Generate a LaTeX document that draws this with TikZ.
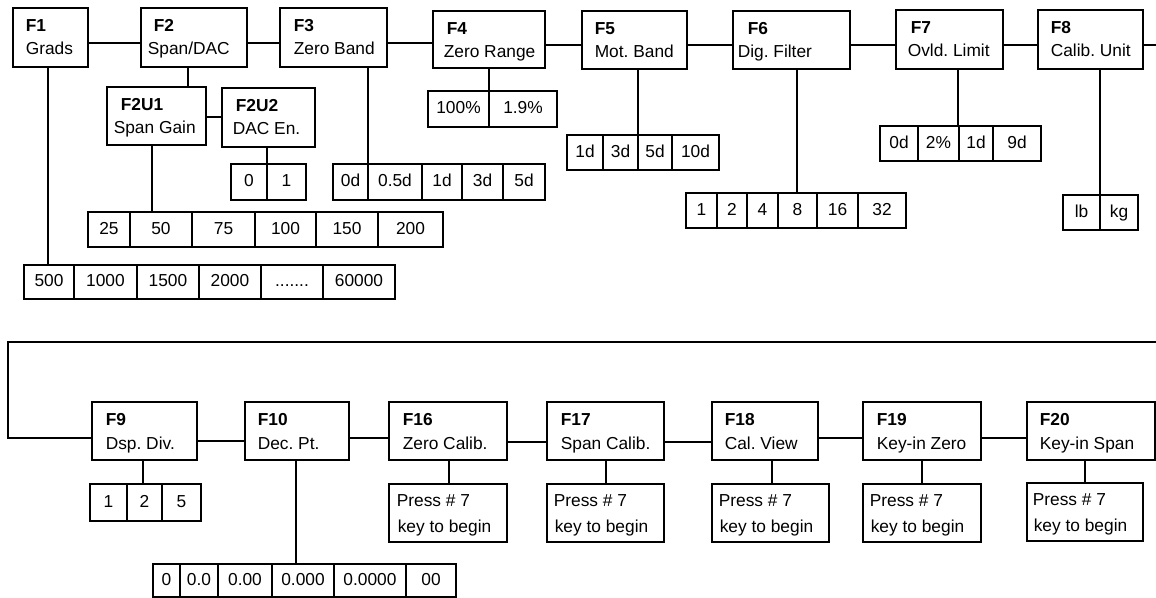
\documentclass[tikz,border=0pt]{standalone}
\usepackage{fontspec}
\setmainfont{Liberation Sans}
\frenchspacing
\newcommand{\dotsval}{.......}
\begin{document}
\frenchspacing
\begin{tikzpicture}[x=0.75pt,y=-0.75pt,line width=1.2pt,
  every node/.style={font=\fontsize{13}{15}\selectfont},
  fbox/.style={draw,rectangle,inner sep=0pt},
  cell/.style={draw,rectangle,inner sep=0pt,text height=0.716em,text depth=0pt},
  ftxt/.style={anchor=base west,inner sep=0pt},
  flbl/.style={anchor=base west,inner sep=0pt,font=\fontsize{13}{15}\selectfont\bfseries}]
\useasboundingbox (0,0) rectangle (1156,598);
% function box: name, x1,y1,x2,y2, label x, text x, label, text
\newcommand{\fbx}[9]{%
  \node[fbox,minimum width={(#4-#2)*0.75pt},minimum height={(#5-#3)*0.75pt}] (#1) at ({(#2+#4)/2},{(#3+#5)/2}) {};
  \node[flbl] (#1-l) at (#6,#3+24) {#8};
  \node[ftxt] (#1-t) at (#7,#3+47) {#9};}
% press box: name, x1,y1,x2,y2, text x
\newcommand{\pbx}[6]{%
  \node[fbox,minimum width={(#4-#2)*0.75pt},minimum height={(#5-#3)*0.75pt}] (#1) at ({(#2+#4)/2},{(#3+#5)/2}) {};
  \node[ftxt] (#1-a) at (#6,#3+22) {Press \# 7};
  \node[ftxt] (#1-b) at (#6+1,#3+48) {key to begin};}
% option row: prefix, y1, y2, list x1/x2/text
\newcommand{\optrow}[4]{%
  \foreach \a/\b/\t [count=\i] in {#4} {
    \node[cell,minimum width={(\b-\a)*0.75pt},minimum height={(#3-#2)*0.75pt}] (#1\i) at ({(\a+\b)/2},{(#2+#3)/2}) {\t};}}

% top row
\fbx{f1}{13}{8}{88}{67}{25}{25}{F1}{Grads}
\fbx{f2}{141}{8}{247}{67}{153}{147}{F2}{Span/DAC}
\fbx{f3}{280}{8}{387}{67}{293}{293}{F3}{Zero Band}
\fbx{f4}{433}{11}{545}{68}{446}{443}{F4}{Zero Range}
\fbx{f5}{582}{11}{687}{69}{594}{594}{F5}{Mot. Band}
\fbx{f6}{733}{11}{850}{69}{747}{737}{F6}{Dig. Filter}
\fbx{f7}{896}{10}{1003}{69}{910}{907}{F7}{Ovld. Limit}
\fbx{f8}{1038}{10}{1143}{69}{1050}{1050}{F8}{Calib. Unit}
\fbx{f2u1}{107}{87}{206}{145}{120}{113}{F2U1}{Span Gain}
\fbx{f2u2}{222}{88}{315}{147}{235}{232}{F2U2}{DAC En.}

\optrow{grads}{265}{299}{24/74/500,74/137/1000,137/199/1500,199/261/2000,261/323/\dotsval,323/395/60000}
\optrow{gain}{212}{247}{88/130/25,130/192/50,192/255/75,255/316/100,316/378/150,378/443/200}
\optrow{dac}{164}{200}{231/267/0,267/306/1}
\optrow{zb}{164}{200}{333/368/0d,368/422/0.5d,422/462/1d,462/503/3d,503/545/5d}
\optrow{zr}{91}{127}{428/489/100\%,489/557/1.9\%}
\optrow{mb}{135}{170}{567/603/1d,603/638/3d,638/672/5d,672/719/10d}
\optrow{df}{193}{228}{686/717/1,717/747/2,747/778/4,778/817/8,817/858/16,858/906/32}
\optrow{ol}{126}{161}{880/918/0d,918/959/2\%,959/993/1d,993/1041/9d}
\optrow{cu}{195}{230}{1063/1100/lb,1100/1138/kg}

% bottom row
\fbx{f9}{92}{402}{197}{460}{105}{105}{F9}{Dsp. Div.}
\fbx{f10}{245}{402}{349}{460}{257}{257}{F10}{Dec. Pt.}
\fbx{f16}{389}{402}{507}{460}{402}{402}{F16}{Zero Calib.}
\fbx{f17}{547}{402}{664}{460}{560}{560}{F17}{Span Calib.}
\fbx{f18}{712}{402}{818}{460}{724}{724}{F18}{Cal. View}
\fbx{f19}{863}{402}{981}{460}{876}{876}{F19}{Key-in Zero}
\fbx{f20}{1027}{402}{1155}{460}{1039}{1039}{F20}{Key-in Span}

\pbx{p16}{389}{484}{507}{542}{396}
\pbx{p17}{547}{484}{664}{542}{553}
\pbx{p18}{712}{484}{829}{542}{718}
\pbx{p19}{863}{484}{981}{542}{869}
\pbx{p20}{1027}{483}{1143}{541}{1032}

\optrow{dd}{484}{521}{90/127/1,127/162/2,162/201/5}
\optrow{dp}{564}{597}{153/180/0,180/218/0.0,218/272/0.00,272/334/0.000,334/406/0.0000,406/456/00}

% level coordinates
\coordinate (ya) at (0,43);
\coordinate (yb) at (0,45);
\coordinate (yc) at (0,117);
\coordinate (rtop) at (1156,45);
\coordinate (rloop) at (1156,342);
\coordinate (lloop) at (8,342);
\coordinate (yl) at (0,438);
\coordinate (yd) at (0,441);
\coordinate (ye) at (0,442);
% vertical positions
\coordinate (v1) at (48,0);
\coordinate (v2) at (188,0);
\coordinate (v2a) at (152,0);
\coordinate (v2b) at (267,0);
\coordinate (v3) at (368,0);
\coordinate (v4) at (489,0);
\coordinate (v5) at (638,0);
\coordinate (v6) at (797,0);
\coordinate (v7) at (958,0);
\coordinate (v8) at (1100,0);
\coordinate (v9) at (143,0);
\coordinate (v10) at (296,0);
\coordinate (v16) at (449,0);
\coordinate (v17) at (606,0);
\coordinate (v18) at (772,0);
\coordinate (v19) at (922,0);
\coordinate (v20) at (1085,0);

% horizontal connectors, top
\draw (f1.east |- ya) -- (f2.west |- ya);
\draw (f2.east |- ya) -- (f3.west |- ya);
\draw (f3.east |- ya) -- (f4.west |- ya);
\draw (f4.east |- yb) -- (f5.west |- yb);
\draw (f5.east |- yb) -- (f6.west |- yb);
\draw (f6.east |- yb) -- (f7.west |- yb);
\draw (f7.east |- yb) -- (f8.west |- yb);
\draw (f8.east |- yb) -- (rtop);
\draw (f2u1.east |- yc) -- (f2u2.west |- yc);
% vertical connectors, top
\draw (f1.south -| v1) -- (grads1.north -| v1);
\draw (f2.south -| v2) -- (f2u1.north -| v2);
\draw (f2u1.south -| v2a) -- (gain2.north -| v2a);
\draw (f2u2.south -| v2b) -- (dac1.north -| v2b);
\draw (f3.south -| v3) -- (zb1.north -| v3);
\draw (f4.south -| v4) -- (zr1.north -| v4);
\draw (f5.south -| v5) -- (mb3.north -| v5);
\draw (f6.south -| v6) -- (df4.north -| v6);
\draw (f7.south -| v7) -- (ol3.north -| v7);
\draw (f8.south -| v8) -- (cu1.north -| v8);
% loop and bottom row
\draw (rloop) -- (lloop) -- (lloop |- yl) -- (f9.west |- yl);
\draw (f9.east |- yd) -- (f10.west |- yd);
\draw (f10.east |- yl) -- (f16.west |- yl);
\draw (f16.east |- ye) -- (f17.west |- ye);
\draw (f17.east |- ye) -- (f18.west |- ye);
\draw (f18.east |- yl) -- (f19.west |- yl);
\draw (f19.east |- yl) -- (f20.west |- yl);
\draw (f9.south -| v9) -- (dd2.north -| v9);
\draw (f10.south -| v10) -- (dp4.north -| v10);
\draw (f16.south -| v16) -- (p16.north -| v16);
\draw (f17.south -| v17) -- (p17.north -| v17);
\draw (f18.south -| v18) -- (p18.north -| v18);
\draw (f19.south -| v19) -- (p19.north -| v19);
\draw (f20.south -| v20) -- (p20.north -| v20);
\end{tikzpicture}
\end{document}
